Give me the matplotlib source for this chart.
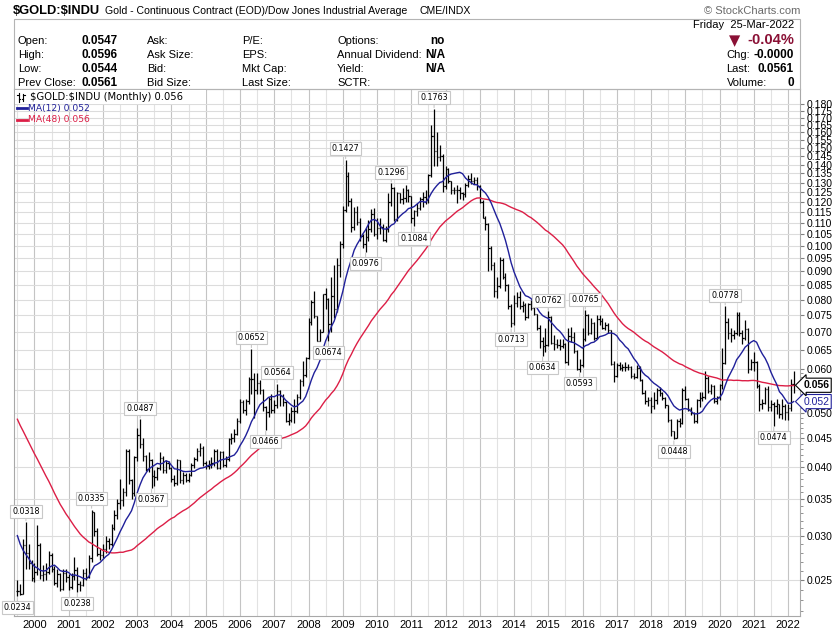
import matplotlib.pyplot as plt
import numpy as np
import pandas as pd
from matplotlib.lines import Line2D
from matplotlib.patches import Rectangle
from matplotlib.ticker import FixedLocator, FuncFormatter, NullFormatter

W, H = 840, 634
plt.rcParams["font.family"] = ["Liberation Sans", "DejaVu Sans"]

# =====================================================================
# Monthly $GOLD:$INDU ratio bars, Jul 1999 .. Mar 2022
# =====================================================================
FIRST_YEAR, FIRST_MONTH = 1999, 7

# closes Jul 1995 .. Jun 1999 (not drawn, only feed the moving averages)
pre_close = [
    0.0816, 0.0831, 0.0802, 0.0805, 0.0763, 0.0756,
    0.0751, 0.0729, 0.0709, 0.0704, 0.0693, 0.0676, 0.0696, 0.0689, 0.0644, 0.0629, 0.0569, 0.0572,
    0.0506, 0.0529, 0.0530, 0.0485, 0.0471, 0.0435, 0.0396, 0.0426, 0.0419, 0.0418, 0.0378, 0.0367,
    0.0384, 0.0348, 0.0342, 0.0342, 0.0329, 0.0331, 0.0324, 0.0362, 0.0375, 0.0340, 0.0322, 0.0314,
    0.0305, 0.0308, 0.0286, 0.0265, 0.0254, 0.0239,
]

close_vals = [
    0.0239, 0.0236, 0.0289, 0.0280, 0.0268, 0.0252,  # 1999
    0.0259, 0.0289, 0.0255, 0.0256, 0.0259, 0.0277, 0.0262, 0.0247, 0.0256, 0.0241, 0.0258, 0.0253,  # 2000
    0.0243, 0.0254, 0.0261, 0.0246, 0.0245, 0.0258, 0.0253, 0.0274, 0.0331, 0.0307, 0.0279, 0.0278,  # 2001
    0.0284, 0.0294, 0.0290, 0.0311, 0.0328, 0.0344, 0.0348, 0.0360, 0.0427, 0.0378, 0.0359, 0.0416,  # 2002
    0.0457, 0.0440, 0.0418, 0.0397, 0.0411, 0.0385, 0.0383, 0.0398, 0.0415, 0.0394, 0.0407, 0.0398,  # 2003
    0.0381, 0.0374, 0.0411, 0.0379, 0.0387, 0.0378, 0.0386, 0.0403, 0.0413, 0.0428, 0.0433, 0.0406,  # 2004
    0.0402, 0.0404, 0.0407, 0.0427, 0.0398, 0.0425, 0.0403, 0.0413, 0.0448, 0.0450, 0.0458, 0.0483,  # 2005
    0.0524, 0.0506, 0.0526, 0.0575, 0.0576, 0.0551, 0.0566, 0.0550, 0.0513, 0.0502, 0.0530, 0.0507,  # 2006
    0.0517, 0.0548, 0.0537, 0.0523, 0.0484, 0.0485, 0.0504, 0.0504, 0.0535, 0.0571, 0.0586, 0.0629,  # 2007
    0.0730, 0.0792, 0.0747, 0.0675, 0.0701, 0.0819, 0.0802, 0.0722, 0.0811, 0.0770, 0.0923, 0.1007,  # 2008
    0.1160, 0.1334, 0.1204, 0.1081, 0.1152, 0.1106, 0.1041, 0.1006, 0.1038, 0.1071, 0.1143, 0.1051,  # 2009
    0.1076, 0.1083, 0.1025, 0.1071, 0.1197, 0.1273, 0.1117, 0.1244, 0.1212, 0.1221, 0.1259, 0.1227,  # 2010
    0.1121, 0.1153, 0.1168, 0.1215, 0.1222, 0.1208, 0.1341, 0.1574, 0.1484, 0.1443, 0.1449, 0.1282,  # 2011
    0.1376, 0.1309, 0.1258, 0.1259, 0.1259, 0.1245, 0.1241, 0.1289, 0.1319, 0.1311, 0.1315, 0.1279,  # 2012
    0.1200, 0.1124, 0.1096, 0.0992, 0.0922, 0.0828, 0.0847, 0.0943, 0.0878, 0.0851, 0.0779, 0.0725,  # 2013
    0.0790, 0.0810, 0.0780, 0.0782, 0.0745, 0.0786, 0.0774, 0.0753, 0.0710, 0.0674, 0.0659, 0.0664,  # 2014
    0.0745, 0.0668, 0.0666, 0.0663, 0.0661, 0.0665, 0.0619, 0.0687, 0.0685, 0.0647, 0.0601, 0.0609,  # 2015
    0.0679, 0.0750, 0.0698, 0.0726, 0.0683, 0.0737, 0.0733, 0.0711, 0.0719, 0.0704, 0.0613, 0.0583,  # 2016
    0.0610, 0.0603, 0.0605, 0.0606, 0.0604, 0.0582, 0.0580, 0.0602, 0.0573, 0.0544, 0.0525, 0.0527,  # 2017
    0.0514, 0.0527, 0.0550, 0.0544, 0.0532, 0.0516, 0.0485, 0.0464, 0.0451, 0.0484, 0.0479, 0.0550,  # 2018
    0.0530, 0.0508, 0.0501, 0.0483, 0.0528, 0.0531, 0.0535, 0.0579, 0.0547, 0.0560, 0.0525, 0.0534,  # 2019
    0.0562, 0.0616, 0.0728, 0.0696, 0.0690, 0.0697, 0.0751, 0.0696, 0.0682, 0.0709, 0.0601, 0.0619,  # 2020
    0.0617, 0.0559, 0.0520, 0.0522, 0.0552, 0.0513, 0.0520, 0.0514, 0.0519, 0.0498, 0.0515, 0.0503,  # 2021
    0.0511, 0.0563, 0.0561,  # 2022
]

high_vals = [
    0.0250, 0.0246, 0.0296, 0.0318, 0.0290, 0.0272,
    0.0268, 0.0314, 0.0292, 0.0266, 0.0268, 0.0282, 0.0280, 0.0265, 0.0262, 0.0258, 0.0262, 0.0262,
    0.0256, 0.0258, 0.0275, 0.0264, 0.0249, 0.0262, 0.0263, 0.0278, 0.0335, 0.0332, 0.0310, 0.0285,
    0.0290, 0.0300, 0.0298, 0.0315, 0.0335, 0.0350, 0.0380, 0.0366, 0.0430, 0.0430, 0.0380, 0.0418,
    0.0470, 0.0487, 0.0450, 0.0420, 0.0425, 0.0413, 0.0395, 0.0400, 0.0426, 0.0418, 0.0412, 0.0410,
    0.0400, 0.0386, 0.0414, 0.0412, 0.0392, 0.0390, 0.0390, 0.0406, 0.0416, 0.0432, 0.0442, 0.0436,
    0.0410, 0.0412, 0.0417, 0.0430, 0.0430, 0.0428, 0.0428, 0.0418, 0.0450, 0.0460, 0.0468, 0.0490,
    0.0530, 0.0528, 0.0530, 0.0580, 0.0652, 0.0590, 0.0590, 0.0574, 0.0552, 0.0515, 0.0535, 0.0540,
    0.0527, 0.0564, 0.0550, 0.0540, 0.0525, 0.0500, 0.0512, 0.0530, 0.0540, 0.0575, 0.0620, 0.0632,
    0.0742, 0.0800, 0.0830, 0.0748, 0.0708, 0.0820, 0.0840, 0.0805, 0.0880, 0.0925, 0.0950, 0.1020,
    0.1180, 0.1427, 0.1360, 0.1220, 0.1175, 0.1180, 0.1120, 0.1050, 0.1075, 0.1115, 0.1165, 0.1168,
    0.1120, 0.1120, 0.1095, 0.1085, 0.1245, 0.1296, 0.1275, 0.1250, 0.1245, 0.1270, 0.1285, 0.1268,
    0.1230, 0.1160, 0.1195, 0.1225, 0.1250, 0.1260, 0.1345, 0.1650, 0.1763, 0.1600, 0.1520, 0.1465,
    0.1390, 0.1380, 0.1310, 0.1275, 0.1285, 0.1275, 0.1250, 0.1300, 0.1340, 0.1355, 0.1330, 0.1330,
    0.1285, 0.1210, 0.1130, 0.1100, 0.1000, 0.0935, 0.0880, 0.0955, 0.0950, 0.0895, 0.0855, 0.0785,
    0.0815, 0.0825, 0.0830, 0.0795, 0.0790, 0.0790, 0.0800, 0.0785, 0.0755, 0.0720, 0.0685, 0.0710,
    0.0762, 0.0748, 0.0690, 0.0680, 0.0680, 0.0680, 0.0668, 0.0710, 0.0715, 0.0700, 0.0650, 0.0625,
    0.0710, 0.0765, 0.0755, 0.0740, 0.0728, 0.0750, 0.0750, 0.0740, 0.0730, 0.0725, 0.0705, 0.0620,
    0.0615, 0.0618, 0.0612, 0.0618, 0.0612, 0.0608, 0.0590, 0.0610, 0.0608, 0.0575, 0.0550, 0.0535,
    0.0535, 0.0545, 0.0555, 0.0556, 0.0545, 0.0535, 0.0517, 0.0488, 0.0465, 0.0488, 0.0490, 0.0555,
    0.0560, 0.0532, 0.0512, 0.0503, 0.0530, 0.0545, 0.0545, 0.0595, 0.0582, 0.0563, 0.0562, 0.0536,
    0.0565, 0.0655, 0.0778, 0.0740, 0.0710, 0.0705, 0.0760, 0.0760, 0.0705, 0.0735, 0.0712, 0.0625,
    0.0645, 0.0620, 0.0565, 0.0530, 0.0556, 0.0560, 0.0528, 0.0524, 0.0530, 0.0520, 0.0530, 0.0520,
    0.0520, 0.0575, 0.0596,
]

low_vals = [
    0.0234, 0.0235, 0.0236, 0.0262, 0.0262, 0.0249,
    0.0248, 0.0255, 0.0251, 0.0249, 0.0250, 0.0256, 0.0259, 0.0245, 0.0243, 0.0239, 0.0240, 0.0248,
    0.0240, 0.0241, 0.0250, 0.0238, 0.0239, 0.0244, 0.0250, 0.0252, 0.0270, 0.0300, 0.0276, 0.0272,
    0.0274, 0.0280, 0.0285, 0.0288, 0.0308, 0.0322, 0.0336, 0.0340, 0.0355, 0.0372, 0.0350, 0.0355,
    0.0410, 0.0432, 0.0410, 0.0393, 0.0392, 0.0367, 0.0369, 0.0378, 0.0395, 0.0390, 0.0390, 0.0396,
    0.0376, 0.0370, 0.0371, 0.0374, 0.0373, 0.0375, 0.0375, 0.0385, 0.0398, 0.0410, 0.0418, 0.0402,
    0.0396, 0.0396, 0.0398, 0.0402, 0.0396, 0.0396, 0.0400, 0.0400, 0.0410, 0.0440, 0.0444, 0.0456,
    0.0480, 0.0500, 0.0495, 0.0520, 0.0540, 0.0490, 0.0540, 0.0540, 0.0505, 0.0466, 0.0492, 0.0500,
    0.0500, 0.0510, 0.0515, 0.0515, 0.0482, 0.0475, 0.0482, 0.0480, 0.0500, 0.0530, 0.0560, 0.0580,
    0.0625, 0.0720, 0.0740, 0.0675, 0.0675, 0.0700, 0.0770, 0.0674, 0.0700, 0.0740, 0.0760, 0.0880,
    0.0990, 0.1150, 0.1180, 0.1060, 0.1070, 0.1090, 0.1020, 0.0990, 0.0976, 0.1020, 0.1060, 0.1040,
    0.1030, 0.1050, 0.1020, 0.1015, 0.1060, 0.1180, 0.1110, 0.1110, 0.1195, 0.1190, 0.1200, 0.1200,
    0.1100, 0.1084, 0.1130, 0.1160, 0.1175, 0.1190, 0.1195, 0.1330, 0.1390, 0.1390, 0.1420, 0.1250,
    0.1265, 0.1300, 0.1240, 0.1240, 0.1195, 0.1215, 0.1210, 0.1225, 0.1275, 0.1290, 0.1290, 0.1260,
    0.1195, 0.1120, 0.1070, 0.0900, 0.0905, 0.0810, 0.0805, 0.0840, 0.0870, 0.0830, 0.0770, 0.0713,
    0.0720, 0.0775, 0.0770, 0.0760, 0.0735, 0.0740, 0.0765, 0.0750, 0.0705, 0.0655, 0.0634, 0.0645,
    0.0660, 0.0665, 0.0650, 0.0655, 0.0650, 0.0655, 0.0615, 0.0610, 0.0670, 0.0640, 0.0598, 0.0593,
    0.0605, 0.0675, 0.0690, 0.0695, 0.0678, 0.0680, 0.0720, 0.0708, 0.0705, 0.0698, 0.0610, 0.0568,
    0.0580, 0.0598, 0.0595, 0.0595, 0.0598, 0.0578, 0.0575, 0.0578, 0.0570, 0.0542, 0.0520, 0.0515,
    0.0500, 0.0508, 0.0520, 0.0536, 0.0528, 0.0510, 0.0482, 0.0455, 0.0448, 0.0450, 0.0472, 0.0478,
    0.0528, 0.0505, 0.0495, 0.0480, 0.0480, 0.0512, 0.0525, 0.0530, 0.0544, 0.0540, 0.0522, 0.0520,
    0.0528, 0.0552, 0.0612, 0.0680, 0.0672, 0.0680, 0.0690, 0.0688, 0.0666, 0.0678, 0.0590, 0.0598,
    0.0595, 0.0555, 0.0505, 0.0508, 0.0520, 0.0505, 0.0505, 0.0474, 0.0498, 0.0490, 0.0488, 0.0485,
    0.0485, 0.0505, 0.0544,
]

year_labels = list(range(2000, 2023))
y_tick_vals = [round(v / 1000, 3) for v in range(25, 185, 5)]
hidden_y_label = 0.055  # sits under the last-close marker

# labelled swing points: (year, month, high or low)
callouts = [
    (1999, 7, "L"), (1999, 10, "H"), (2001, 4, "L"), (2001, 9, "H"), (2003, 2, "H"),
    (2003, 6, "L"), (2006, 5, "H"), (2006, 10, "L"), (2007, 2, "H"), (2008, 8, "L"),
    (2009, 2, "H"), (2009, 9, "L"), (2010, 6, "H"), (2011, 2, "L"), (2011, 9, "H"),
    (2013, 12, "L"), (2014, 11, "L"), (2015, 1, "H"), (2015, 12, "L"), (2016, 2, "H"),
    (2018, 9, "L"), (2020, 3, "H"), (2021, 8, "L"),
]

NAVY = "#20209a"
CRIMSON = "#dc1e46"
MAROON = "#8a1035"


def month_idx(year, month):
    return (year - FIRST_YEAR) * 12 + (month - FIRST_MONTH)


def ftext(x, y, s, **kw):
    # place text in pixel coordinates measured from the top-left corner
    kw.setdefault("fontsize", 8)
    kw.setdefault("va", "center")
    fig.text(x / W, 1 - y / H, s, parse_math=False, **kw)


def fline(xs, ys, **kw):
    fig.add_artist(Line2D([v / W for v in xs], [1 - v / H for v in ys],
                          transform=fig.transFigure, **kw))


fig = plt.figure(figsize=(W / 100, H / 100), dpi=100)

# ---------------- header ----------------
ftext(13, 11.5, "$GOLD:$INDU", fontsize=9.3, fontweight="bold")
ftext(105, 11.5, "Gold - Continuous Contract (EOD)/Dow Jones Industrial Average", fontsize=7.6)
ftext(420, 11.5, "CME/INDX", fontsize=7.6)
ftext(800, 11, "\u00a9 StockCharts.com", fontsize=8, ha="right", color="#6a6a6a")

fig.add_artist(Rectangle((14 / W, 1 - 89 / H), 786 / W, 70 / H, transform=fig.transFigure,
                         fill=False, ec="#b4b4b4", lw=0.8))

rows_y = [40.5, 55.3, 69.5, 83.0]
col_texts = [
    (18, ["Open:", "High:", "Low:", "Prev Close:"]),
    (147, ["Ask:", "Ask Size:", "Bid:", "Bid Size:"]),
    (242, ["P/E:", "EPS:", "Mkt Cap:", "Last Size:"]),
    (337, ["Options:", "Annual Dividend:", "Yield:", "SCTR:"]),
]
for cx, labels in col_texts:
    for yy, s in zip(rows_y, labels):
        ftext(cx, yy, s)
for yy, s in zip(rows_y, ["0.0547", "0.0596", "0.0544", "0.0561"]):
    ftext(81, yy, s, fontweight="bold", fontsize=8.5)
for yy, s in zip(rows_y, ["no", "N/A", "N/A"]):
    ftext(445, yy, s, fontweight="bold", ha="right", fontsize=8.5)

ftext(794, 25, "Friday  25-Mar-2022", ha="right")
ftext(729, 41, "\u25bc", fontsize=10.5, color=MAROON, fontfamily="DejaVu Sans")
ftext(794, 40.5, "-0.04%", fontsize=10.5, fontweight="bold", color=MAROON, ha="right")
ftext(726, 55.3, "Chg:")
ftext(794, 55.3, "-0.0000", fontweight="bold", ha="right", fontsize=8.5)
ftext(726, 69.5, "Last:")
ftext(794, 69.5, "0.0561", fontweight="bold", ha="right", fontsize=8.5)
ftext(727, 83, "Volume:")
ftext(794, 83, "0", fontweight="bold", ha="right", fontsize=8.5)

# ---------------- price panel ----------------
ax = fig.add_axes([14 / W, (H - 616) / H, 786 / W, 527 / H])

n = len(close_vals)
x = np.arange(n)
closes = np.array(close_vals)
opens = np.concatenate([[pre_close[-1]], closes[:-1]])  # open tick = prior month close

all_close = pd.Series(pre_close + close_vals)
ma12 = all_close.rolling(12).mean().iloc[len(pre_close):].values
ma48 = all_close.rolling(48).mean().iloc[len(pre_close):].values

ax.vlines(x, low_vals, high_vals, color="black", lw=0.9, zorder=3)
ax.hlines(opens, x - 0.45, x, color="black", lw=0.9, zorder=3)
ax.hlines(closes, x, x + 0.45, color="black", lw=0.9, zorder=3)
ax.plot(x, ma48, color=CRIMSON, lw=1.0, zorder=4)
ax.plot(x, ma12, color=NAVY, lw=1.0, zorder=4)

ax.set_yscale("log")
ax.set_xlim(-1.18, 274.2)
ax.set_ylim(0.02155, 0.1916)

ax.yaxis.set_major_locator(FixedLocator(y_tick_vals))
ax.yaxis.set_major_formatter(
    FuncFormatter(lambda v, p: "" if abs(v - hidden_y_label) < 1e-6 else f"{v:.3f}"))
minor_y = [v / 1000 for v in range(22, 60) if v % 5]
ax.yaxis.set_minor_locator(FixedLocator(minor_y))
ax.yaxis.set_minor_formatter(NullFormatter())

jan_idx = [month_idx(y, 1) for y in year_labels]
jul_idx = [month_idx(y, 7) for y in range(1999, 2022)]
ax.set_xticks(jan_idx)
ax.set_xticklabels([str(y) for y in year_labels])
ax.set_xticks(jul_idx, minor=True)

ax.yaxis.grid(True, which="major", color="#dcdcdc", lw=0.8)
ax.xaxis.grid(True, which="major", color="#c4c4c4", lw=0.8)
ax.xaxis.grid(True, which="minor", color="#e2e2e2", lw=0.8)
ax.set_axisbelow(True)

ax.tick_params(axis="y", which="both", left=False, labelleft=False, right=True, labelright=True,
               labelsize=7.5, pad=2, colors="#808080", labelcolor="black")
ax.tick_params(axis="y", which="major", length=3)
ax.tick_params(axis="y", which="minor", length=2)
ax.tick_params(axis="x", which="both", length=0, labelsize=8, pad=3)
for sp in ax.spines.values():
    sp.set_color("#a8a8a8")
    sp.set_linewidth(0.8)

# swing labels
for yy, mm, kind in callouts:
    i = month_idx(yy, mm)
    val = high_vals[i] if kind == "H" else low_vals[i]
    dy = 8 if kind == "H" else -8.5
    ax.annotate(f"{val:.4f}", xy=(i, val), xytext=(0, dy), textcoords="offset points",
                ha="center", va="center", fontsize=5.8, fontfamily="DejaVu Sans",
                bbox=dict(boxstyle="square,pad=0.25", fc="white", ec="#c8c8c8", lw=0.8),
                arrowprops=dict(arrowstyle="-", color="#c8c8c8", lw=0.8, shrinkA=0, shrinkB=1),
                zorder=6)

# last-value markers on the price axis
yax = ax.get_yaxis_transform()
ax.text(1.004, closes[-1], f"{closes[-1]:.3f}", transform=yax, ha="left", va="center",
        fontsize=7.5, fontweight="bold", clip_on=False, zorder=10,
        bbox=dict(boxstyle="larrow,pad=0.2", fc="white", ec="black", lw=0.8))
ax.text(1.004, ma12[-1], f"{ma12[-1]:.3f}", transform=yax, ha="left", va="center",
        fontsize=7.5, color=NAVY, clip_on=False, zorder=9,
        bbox=dict(boxstyle="larrow,pad=0.2", fc="white", ec=NAVY, lw=0.8))

# legend block (top-left inside the panel)
fig.add_artist(Rectangle((14.5 / W, 1 - 104 / H), 191 / W, 14.5 / H, transform=fig.transFigure,
                         fc="white", ec="none"))
fline([18.5, 18.5], [92.5, 101.5], color="black", lw=0.8)
fline([17, 18.5], [95, 95], color="black", lw=0.8)
fline([18.5, 20], [99, 99], color="black", lw=0.8)
fline([23, 23], [93.5, 100.5], color="black", lw=0.8)
fline([21.5, 23], [99, 99], color="black", lw=0.8)
fline([23, 24.5], [95, 95], color="black", lw=0.8)
ftext(30, 97.3, "$GOLD:$INDU (Monthly) 0.056", fontsize=7.2, fontfamily="DejaVu Sans")
fline([17, 26.5], [108.3, 108.3], color=NAVY, lw=2)
ftext(27.5, 108.3, f"MA(12) {ma12[-1]:.3f}", fontsize=6.6, fontfamily="DejaVu Sans", color=NAVY)
fline([17, 26.5], [119.7, 119.7], color=CRIMSON, lw=2)
ftext(27.5, 119.7, f"MA(48) {ma48[-1]:.3f}", fontsize=6.6, fontfamily="DejaVu Sans", color=CRIMSON)

fig.savefig("out.png", dpi=100)
